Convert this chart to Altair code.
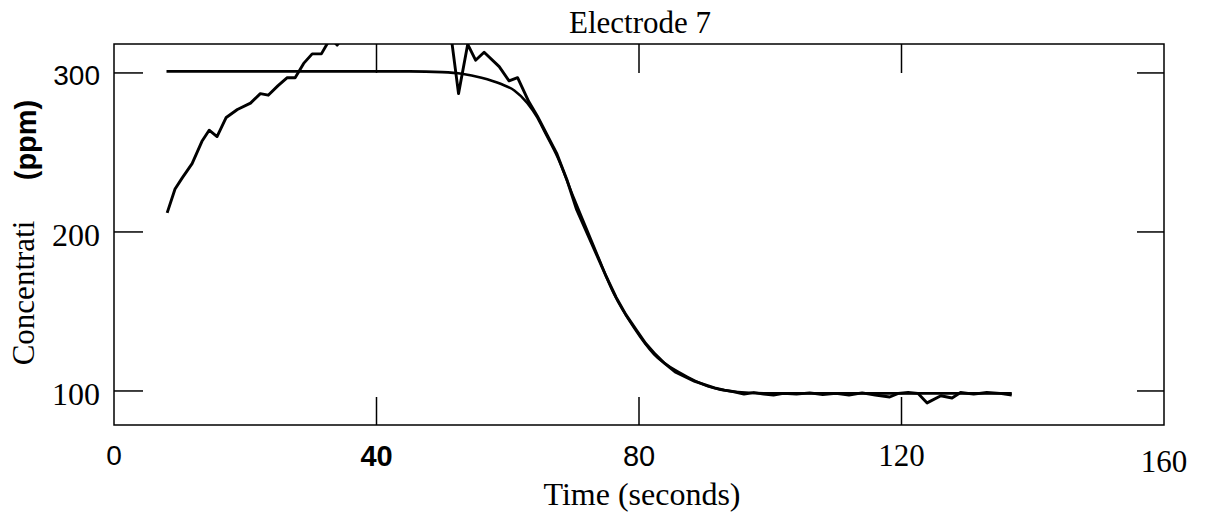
import altair as alt
import pandas as pd

# ---------------- data ----------------
fit_t = [8, 20, 30, 40, 45, 50, 53, 56, 59, 61, 63, 64.5, 65.5, 67.6, 70, 72, 73.7,
         76.2, 79.2, 82.3, 86.4, 90.5, 94.5, 99.7, 104.7, 115, 125, 136.8]
fit_v = [301, 301, 301, 301, 301, 300.5, 299.5, 297, 293, 289, 281, 272, 264, 247, 222,
         202, 185, 161, 140, 123, 111, 103, 99.5, 98.5, 98.5, 98.5, 98.5, 98.5]

raw_t = [8.1, 9.3, 10.4, 11.9, 13.4, 14.5, 15.7, 17.1, 18.8, 20.8, 22.3, 23.5, 25.0,
         26.4, 27.6, 28.9, 30.2, 31.6, 33.0, 34.0, 35.2, 38, 41, 44, 47, 50, 51.4,
         52.5, 53.9, 55.1, 56.4, 58.7, 60.2, 61.5, 63.2, 64.5, 66, 67.5, 69, 70.5,
         72, 73.5, 75, 76.5, 78, 79.5, 81, 82.5, 84, 85.5, 87, 88.5, 90, 91.5, 93,
         94.5, 96, 97.5, 99, 100.5, 102, 104, 106, 108, 110, 112, 114, 116, 118.2,
         119.5, 121, 122.5, 123.9, 126, 127.7, 129, 131, 133, 135, 136.8]
raw_v = [212, 227, 234, 243, 257, 264, 260, 272, 277, 281, 287, 286, 292,
         297, 297, 306, 312, 312, 322, 317.5, 324, 328, 331, 327, 330, 328, 322,
         287, 318, 308, 313, 304, 295, 297, 282, 273, 261, 249, 233, 214,
         200, 186, 172, 159, 148, 139, 130, 123, 117, 112, 109, 106, 104, 102, 100.5,
         99.5, 98, 99, 98, 97.5, 98.5, 98, 98.8, 97.8, 98.5, 97.5, 98.8, 97.5, 96.2,
         98.5, 99, 98.5, 92.5, 97, 95.6, 99, 98, 99, 98.5, 97.5]

x_tick_vals = [40, 80, 120]
y_tick_vals = [100, 200, 300]
x_label_vals = [0, 40, 80, 120, 160]
x_label_text = ["0", "40", "80", "120", "160"]
y_label_vals = [300, 200, 100]
y_label_text = ["300", "200", "100"]
title_text = "Electrode 7"
x_title_text = "Time (seconds)"
y_title_main = "Concentrati"
y_title_unit = "(ppm)"

# ---------------- layout ----------------
W, H = 1050, 381
xs = alt.Scale(domain=[0, 160], nice=False, zero=False)
ys = alt.Scale(domain=[78.6, 318.2], nice=False, zero=False)
SERIF = "Liberation Serif"
SANS = "Liberation Sans"

X = lambda: alt.X("t:Q", scale=xs, axis=None)
Y = lambda: alt.Y("v:Q", scale=ys, axis=None)

raw_df = pd.DataFrame({"t": raw_t, "v": raw_v})
fit_df = pd.DataFrame({"t": fit_t, "v": fit_v})

fit_line = alt.Chart(fit_df).mark_line(
    color="black", strokeWidth=2.6, clip=True, strokeJoin="round", interpolate="monotone"
).encode(x=X(), y=Y())

raw_line = alt.Chart(raw_df).mark_line(
    color="black", strokeWidth=2.9, clip=True, strokeJoin="round"
).encode(x=X(), y=Y())

xt_df = pd.DataFrame({"t": x_tick_vals})
yt_df = pd.DataFrame({"v": y_tick_vals})
rule = dict(color="black", strokeWidth=1.5)

bottom_ticks = alt.Chart(xt_df).mark_rule(**rule).encode(
    x=X(), y=alt.value(H), y2=alt.value(H - 28))
top_ticks = alt.Chart(xt_df).mark_rule(**rule).encode(
    x=X(), y=alt.value(0), y2=alt.value(29))
left_ticks = alt.Chart(yt_df).mark_rule(**rule).encode(
    y=Y(), x=alt.value(0), x2=alt.value(29))
right_ticks = alt.Chart(yt_df).mark_rule(**rule).encode(
    y=Y(), x=alt.value(W - 27), x2=alt.value(W))

# per-label typography (as in the reference, which mixes fonts)
x_styles = {
    "0": (SANS, 28, "normal", 413),
    "40": (SANS, 29, "bold", 413),
    "80": (SANS, 29, "normal", 413),
    "120": (SERIF, 31, "normal", 413),
    "160": (SERIF, 31, "normal", 419),
}
y_styles = {
    "300": (SANS, 28, "normal"),
    "200": (SERIF, 32, "normal"),
    "100": (SERIF, 32, "normal"),
}

layers = [fit_line, raw_line, bottom_ticks, top_ticks, left_ticks, right_ticks]

for val, txt in zip(x_label_vals, x_label_text):
    font, size, weight, ypix = x_styles[txt]
    df = pd.DataFrame({"t": [val], "label": [txt]})
    layers.append(
        alt.Chart(df).mark_text(font=font, fontSize=size, fontWeight=weight,
                                align="center", baseline="middle", color="black")
        .encode(x=X(), y=alt.value(ypix), text="label:N"))

for val, txt in zip(y_label_vals, y_label_text):
    font, size, weight = y_styles[txt]
    df = pd.DataFrame({"v": [val], "label": [txt]})
    layers.append(
        alt.Chart(df).mark_text(font=font, fontSize=size, fontWeight=weight,
                                align="right", baseline="middle", dy=4, color="black")
        .encode(y=Y(), x=alt.value(-14), text="label:N"))


def free_text(txt, xpix, ypix, font, size, weight="normal", angle=0, baseline="middle"):
    df = pd.DataFrame({"label": [txt]})
    kw = dict(font=font, fontSize=size, fontWeight=weight, align="center",
              baseline=baseline, color="black")
    if angle:
        kw["angle"] = angle
    return alt.Chart(df).mark_text(**kw).encode(
        x=alt.value(xpix), y=alt.value(ypix), text="label:N")


layers.append(free_text(title_text, 526, -11, SERIF, 31, baseline="alphabetic"))
layers.append(free_text(x_title_text, 528, 461, SERIF, 32, baseline="alphabetic"))
layers.append(free_text(y_title_main, -89, 249, SERIF, 31, angle=270))
layers.append(free_text(y_title_unit, -87, 96, SANS, 29, weight="bold", angle=270))

chart = alt.layer(*layers).properties(
    width=W, height=H,
    padding={"left": 114, "top": 44, "right": 42, "bottom": 97},
    autosize=alt.AutoSizeParams(type="none"),
    background="white",
).configure_view(stroke="black", strokeWidth=1.5)

chart.save("out.html", embed_options={"renderer": "svg", "actions": False})
